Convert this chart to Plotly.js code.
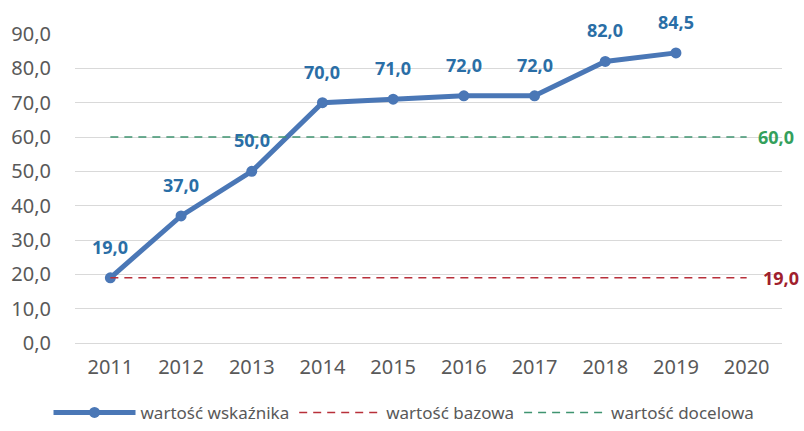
<!DOCTYPE html>
<html>
<head>
<meta charset="utf-8">
<script src="https://cdn.plot.ly/plotly-3.0.1.min.js"></script>
<style>html,body{margin:0;padding:0;background:#fff;}#chart{width:804px;height:431px;}</style>
</head>
<body>
<div id="chart"></div>
<script>
const years = ['2011','2012','2013','2014','2015','2016','2017','2018','2019','2020'];
const indicatorYears = ['2011','2012','2013','2014','2015','2016','2017','2018','2019'];
const indicatorValues = [19.0, 37.0, 50.0, 70.0, 71.0, 72.0, 72.0, 82.0, 84.5];
const baseValue = 19.0;
const targetValue = 60.0;
const seriesNames = ['wartość wskaźnika', 'wartość bazowa', 'wartość docelowa'];

const fmt = v => v.toFixed(1).replace('.', ',');
const FONT = 'Noto Sans, Open Sans, sans-serif';
const catIndex = yr => years.indexOf(yr);

const traces = [
  {
    x: indicatorYears, y: indicatorValues, name: seriesNames[0], type: 'scatter', mode: 'lines+markers',
    line: {color: '#4a77b6', width: 5}, marker: {color: '#4a77b6', size: 11}
  },
  {
    x: years, y: years.map(() => baseValue), name: seriesNames[1], type: 'scatter', mode: 'lines',
    line: {color: '#b8303a', width: 1.5, dash: '8px,6px'}
  },
  {
    x: years, y: years.map(() => targetValue), name: seriesNames[2], type: 'scatter', mode: 'lines',
    line: {color: '#3f9470', width: 1.5, dash: '8px,6px'}
  }
];

const annotations = indicatorYears.map((yr, i) => ({
  x: catIndex(yr), y: indicatorValues[i], xref: 'x', yref: 'y', text: '<b>' + fmt(indicatorValues[i]) + '</b>',
  showarrow: false, yshift: 31, font: {family: FONT, size: 18, color: '#2a6ea6'}
}));
annotations.push({
  x: years.length - 1, y: targetValue, xref: 'x', yref: 'y', text: '<b>' + fmt(targetValue) + '</b>',
  showarrow: false, xanchor: 'left', xshift: 9, font: {family: FONT, size: 18, color: '#34a05c'}
});
annotations.push({
  x: years.length - 1, y: baseValue, xref: 'x', yref: 'y', text: '<b>' + fmt(baseValue) + '</b>',
  showarrow: false, xanchor: 'left', xshift: 14, font: {family: FONT, size: 18, color: '#a0202c'}
});

const layout = {
  width: 804, height: 431,
  margin: {l: 75, r: 22, t: 34, b: 88},
  paper_bgcolor: '#ffffff', plot_bgcolor: '#ffffff',
  separators: ',.',
  font: {family: FONT, color: '#595959'},
  showlegend: true,
  legend: {
    orientation: 'h', xref: 'container', yref: 'container', x: 0.5025, xanchor: 'center', y: 0.042, yanchor: 'middle',
    font: {family: FONT, size: 17, color: '#595959'}, itemwidth: 82, traceorder: 'normal'
  },
  xaxis: {
    type: 'category', range: [-0.5, 9.5], showgrid: false, zeroline: false, showline: false,
    ticks: '', tickfont: {family: FONT, size: 20, color: '#595959'}, ticklabelstandoff: 10,
    fixedrange: true, automargin: false
  },
  yaxis: {
    range: [0, 90], dtick: 10, tickformat: '.1f', showgrid: true, gridcolor: '#d9d9d9', gridwidth: 1,
    zeroline: true, zerolinecolor: '#d9d9d9', zerolinewidth: 1, showline: false, ticks: '',
    tickfont: {family: FONT, size: 20, color: '#595959'}, ticklabelstandoff: 23, fixedrange: true, automargin: false
  },
  annotations: annotations
};

Plotly.newPlot('chart', traces, layout, {displayModeBar: false, staticPlot: true});
</script>
</body>
</html>
